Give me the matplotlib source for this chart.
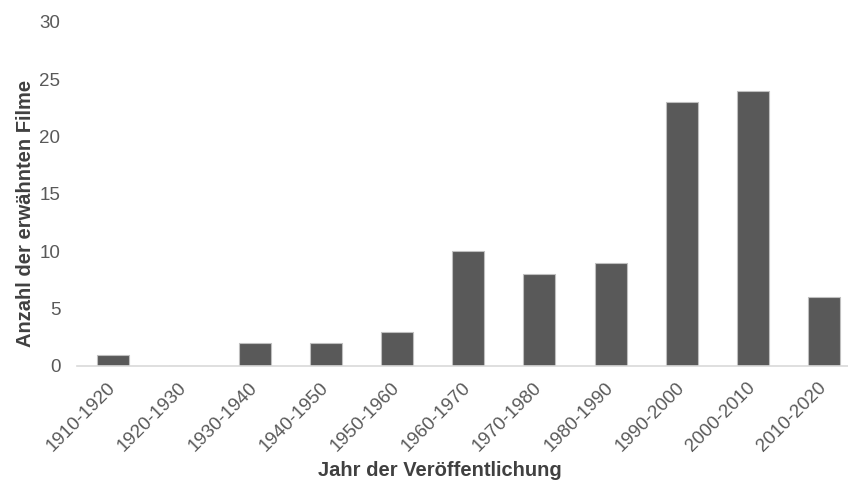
import matplotlib.pyplot as plt
import numpy as np

plt.rcParams['font.family'] = ['Liberation Sans', 'DejaVu Sans']

decades = ["1910-1920", "1920-1930", "1930-1940", "1940-1950", "1950-1960",
           "1960-1970", "1970-1980", "1980-1990", "1990-2000", "2000-2010",
           "2010-2020"]
films = [1, 0, 2, 2, 3, 10, 8, 9, 23, 24, 6]
yticks = [0, 5, 10, 15, 20, 25, 30]

fig = plt.figure(figsize=(8.48, 4.82), dpi=100)
ax = fig.add_axes([0.0908, 0.2407, 0.9228, 0.7137])

x = np.arange(len(decades))
ax.bar(x, films, width=0.45, color='#595959', edgecolor='#bfbfbf', linewidth=0.8)

ax.set_xlim(-0.5, len(decades) - 0.5)
ax.set_ylim(0, 30)
ax.set_yticks(yticks)
ax.set_xticks(x)
ax.set_xticklabels(decades, rotation=45, ha='right', va='center',
                   rotation_mode='anchor')

for s in ['top', 'right', 'left']:
    ax.spines[s].set_visible(False)
ax.spines['bottom'].set_color('#d9d9d9')
ax.spines['bottom'].set_linewidth(1.2)

ax.tick_params(axis='both', length=0, labelsize=13.5, labelcolor='#595959')
ax.tick_params(axis='y', pad=12)
ax.tick_params(axis='x', pad=14)

fig.text(0.03, 0.558, "Anzahl der erwähnten Filme", fontsize=14.5,
         fontweight='bold', color='#404040', rotation=90,
         ha='center', va='center')
fig.text(0.519, 0.012, "Jahr der Veröffentlichung", fontsize=14.5,
         fontweight='bold', color='#404040', ha='center', va='baseline')

fig.savefig("out.png", dpi=100)
